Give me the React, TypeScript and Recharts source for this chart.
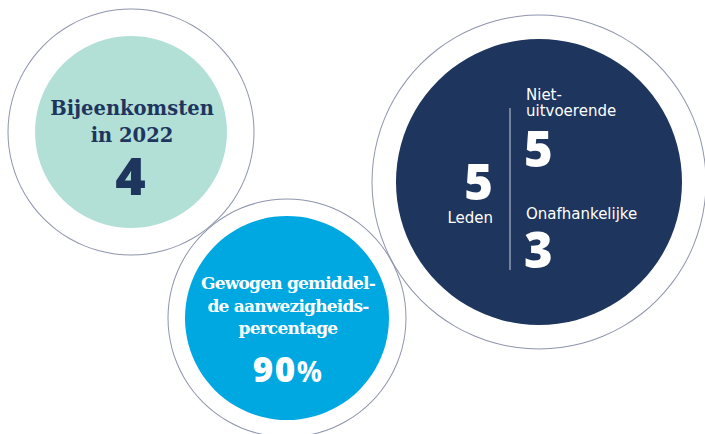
import { Cell, Pie, PieChart } from "recharts";

// bubble names and colours
const bubbles = ["meetings", "attendance", "members"];
const fills = ["#b2e0d6", "#00a8e1", "#1e355e"];

// key figures
const meetingsCount = [4];
const attendancePct = [90];
const memberCounts = [5, 5, 3]; // total, niet-uitvoerende, onafhankelijke

// texts
const meetingsLabel = ["Bijeenkomsten", "in 2022"];
const attendanceLabel = ["Gewogen gemiddel-", "de aanwezigheids-", "percentage"];
const memberLabels = ["Leden", "Niet-", "uitvoerende", "Onafhankelijke"];

const ringColor = "#8e95ad";
const serif = "'DejaVu Serif', serif";
const sans = "'Open Sans', 'DejaVu Sans', sans-serif";
const label = "'DejaVu Sans', sans-serif";

const one = (name: string) => [{ name, value: 1 }];

const layout = [
  { cx: 131, cy: 132, r: 96, ring: 123 },
  { cx: 287, cy: 318, r: 102, ring: 119 },
  { cx: 539, cy: 182, r: 143, ring: 167 },
];

function Texts() {
  return (
    <svg width={705} height={434} style={{ position: "absolute", left: 0, top: 0, pointerEvents: "none" }}>
      {/* meetings */}
      <text x={132} y={115} textAnchor="middle" fill="#1e355e" fontFamily={serif} fontWeight={700} fontSize={19.5}>
        {meetingsLabel[0]}
      </text>
      <text x={132} y={142} textAnchor="middle" fill="#1e355e" fontFamily={serif} fontWeight={700} fontSize={19.5}>
        {meetingsLabel[1]}
      </text>
      <text x={131} y={195} textAnchor="middle" fill="#1e355e" fontFamily={sans} fontWeight={800} fontSize={52} letterSpacing={1}>
        {meetingsCount[0]}
      </text>

      {/* attendance */}
      {attendanceLabel.map((t, i) => (
        <text
          key={t}
          x={288}
          y={289 + i * 22.5}
          textAnchor="middle"
          fill="#fff"
          fontFamily={serif}
          fontWeight={700}
          fontSize={17}
          letterSpacing={-0.8}
        >
          {t}
        </text>
      ))}
      <text x={288} y={382} textAnchor="middle" fill="#fff" fontFamily={sans} fontWeight={800} fontSize={35} letterSpacing={1.5}>
        {attendancePct[0]}
        <tspan fontSize={28} fontWeight={700}>%</tspan>
      </text>

      {/* members */}
      <text x={493} y={200} textAnchor="end" fill="#fff" fontFamily={sans} fontWeight={800} fontSize={49}>
        {memberCounts[0]}
      </text>
      <text x={493} y={223} textAnchor="end" fill="#fff" fontFamily={label} fontSize={15}>
        {memberLabels[0]}
      </text>
      <line x1={510} y1={108} x2={510} y2={270} stroke="#c9cfdc" strokeWidth={1} />
      <text x={526} y={100} fill="#fff" fontFamily={label} fontSize={15}>
        {memberLabels[1]}
      </text>
      <text x={526} y={116} fill="#fff" fontFamily={label} fontSize={15}>
        {memberLabels[2]}
      </text>
      <text x={524} y={167} fill="#fff" fontFamily={sans} fontWeight={800} fontSize={49}>
        {memberCounts[1]}
      </text>
      <text x={526} y={219} fill="#fff" fontFamily={label} fontSize={15}>
        {memberLabels[3]}
      </text>
      <text x={524} y={268} fill="#fff" fontFamily={sans} fontWeight={800} fontSize={49}>
        {memberCounts[2]}
      </text>
    </svg>
  );
}

export default function App() {
  return (
    <div style={{ position: "absolute", left: 0, top: 0, width: 705, height: 434 }}>
      <PieChart width={705} height={434} margin={{ top: 0, right: 0, bottom: 0, left: 0 }}>
        {bubbles.map((b, i) => (
          <Pie
            key={b + "-ring"}
            data={one(b)}
            dataKey="value"
            cx={layout[i].cx}
            cy={layout[i].cy}
            innerRadius={layout[i].ring - 0.5}
            outerRadius={layout[i].ring + 0.5}
            startAngle={90}
            endAngle={-270}
            stroke="none"
            isAnimationActive={false}
          >
            <Cell fill={ringColor} />
          </Pie>
        ))}
        {bubbles.map((b, i) => (
          <Pie
            key={b}
            data={one(b)}
            dataKey="value"
            cx={layout[i].cx}
            cy={layout[i].cy}
            outerRadius={layout[i].r}
            startAngle={90}
            endAngle={-270}
            stroke="none"
            isAnimationActive={false}
          >
            <Cell fill={fills[i]} />
          </Pie>
        ))}
      </PieChart>
      <Texts />
    </div>
  );
}
